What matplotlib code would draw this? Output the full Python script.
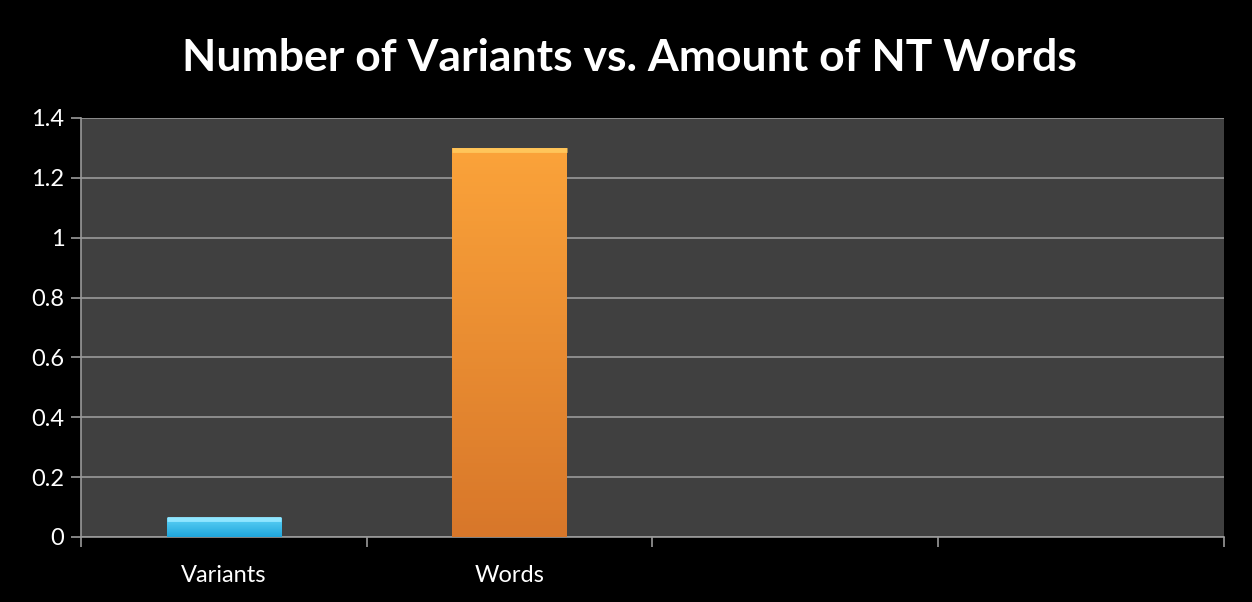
import matplotlib.pyplot as plt
import numpy as np
from matplotlib.colors import LinearSegmentedColormap

# chart data
categories = ['Variants', 'Words', '', '']
values = [0.065, 1.30, None, None]
bar_colors = [('#5fd3f7', '#1fa6dc'), ('#fba33a', '#d8772a')]
edge_colors = ['#8fe6ff', '#ffc55a']
yticks = [0, 0.2, 0.4, 0.6, 0.8, 1, 1.2, 1.4]
ytick_labels = ['0', '0.2', '0.4', '0.6', '0.8', '1', '1.2', '1.4']

plt.rcParams['font.family'] = ['Lato', 'DejaVu Sans']

fig = plt.figure(figsize=(12.52, 6.02), dpi=100, facecolor='black')
ax = fig.add_axes([0.0647, 0.108, 0.9129, 0.696])
ax.set_facecolor('#404040')

x = np.arange(len(categories))

# bars with a vertical gradient to fake the bevel look
for i, v in enumerate(values):
    if v is None:
        continue
    top, bot = bar_colors[i]
    bars = ax.bar(x[i], v, width=0.4, color=bot, edgecolor='none', zorder=3)
    patch = bars[0]
    cmap = LinearSegmentedColormap.from_list('g', [bot, top])
    grad = np.linspace(0, 1, 100).reshape(-1, 1)
    im = ax.imshow(grad, cmap=cmap, aspect='auto', origin='lower',
                   extent=(x[i] - 0.2, x[i] + 0.2, 0, v), zorder=4)
    im.set_clip_path(patch)
    # light top edge
    ax.plot([x[i] - 0.2, x[i] + 0.2], [v - 0.006, v - 0.006], color=edge_colors[i],
            lw=3.5, zorder=5, solid_capstyle='butt')

ax.set_xlim(-0.5, len(categories) - 0.5)
ax.set_ylim(0, 1.4)

ax.set_yticks(yticks)
ax.set_yticklabels(ytick_labels)
ax.yaxis.grid(True, color='#9a9a9a', lw=1.2, zorder=1)
ax.set_axisbelow(True)

# category labels between boundary ticks
ax.set_xticks(x)
ax.set_xticklabels(categories)
ax.set_xticks(np.arange(-0.5, len(categories)), minor=True)
ax.tick_params(axis='x', which='major', length=0, pad=20, colors='white', labelsize=17)
ax.tick_params(axis='x', which='minor', length=7, color='#9a9a9a', width=1.2)
ax.tick_params(axis='y', length=7, color='#9a9a9a', width=1.2, labelcolor='white',
               labelsize=17, pad=5)

for side in ['top', 'right']:
    ax.spines[side].set_visible(False)
for side in ['left', 'bottom']:
    ax.spines[side].set_color('#9a9a9a')
    ax.spines[side].set_linewidth(1.2)

fig.text(0.503, 0.903, 'Number of Variants vs. Amount of NT Words', color='white',
         fontsize=32, fontweight='bold', ha='center', va='center')

fig.savefig('out.png', facecolor='black')
